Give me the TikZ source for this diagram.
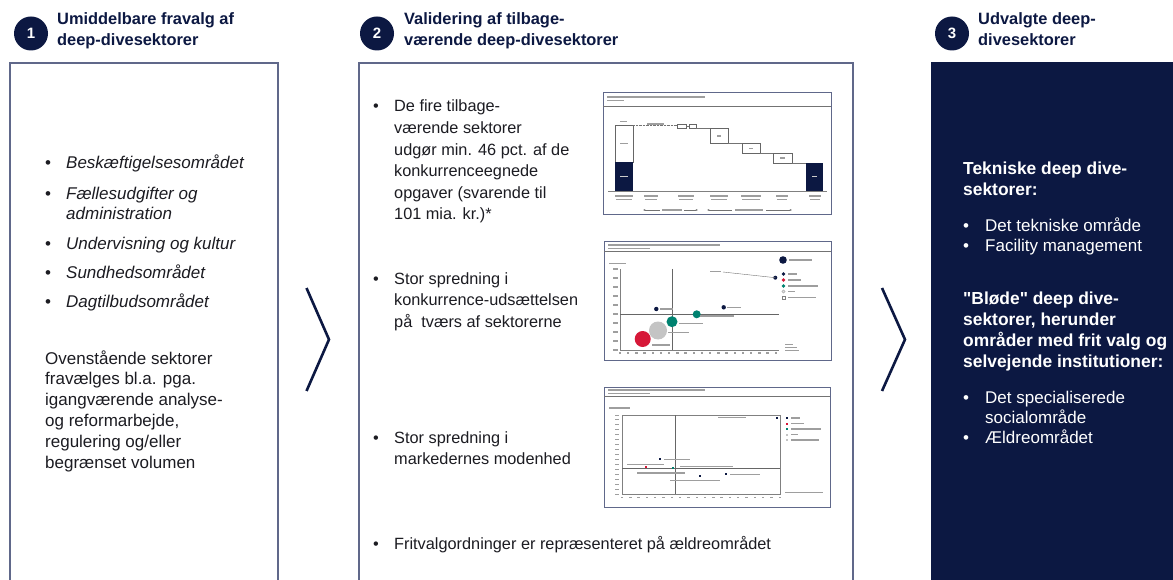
\documentclass[tikz,border=0pt]{standalone}
\usepackage{fontspec}
\setmainfont{Liberation Sans}
\usetikzlibrary{arrows.meta}
\definecolor{navy}{RGB}{12,24,66}
\definecolor{frame}{RGB}{96,104,138}
\definecolor{txt}{RGB}{28,28,34}
\definecolor{tealc}{RGB}{0,130,112}
\definecolor{redc}{RGB}{214,24,56}
\definecolor{grayc}{RGB}{196,196,196}
\newcommand\mylines[1]{\begin{tabular}[t]{@{}l@{}}#1\end{tabular}}
\newcommand\sq{\XeTeXglyph\XeTeXcharglyph"22\relax}
\begin{document}
\begin{tikzpicture}[x=1pt,y=-1pt,
  num/.style={circle, fill=navy, minimum size=34pt, inner sep=0pt, text=white, font=\bfseries\fontsize{15}{15}\selectfont},
  head/.style={anchor=base west, inner sep=0pt, text=navy, font=\bfseries\fontsize{16.4}{21}\selectfont},
  panel/.style={draw=frame, line width=1.3pt},
  chev/.style={draw=navy, line width=2.6pt, line join=miter},
  bul/.style={anchor=base west, inner sep=0pt},
  pone/.style={anchor=base west, inner sep=0pt, text=txt, font=\fontsize{17}{20.5}\selectfont},
  ptwo/.style={anchor=base west, inner sep=0pt, text=txt, font=\fontsize{16.3}{21.6}\selectfont},
  pthree/.style={anchor=base west, inner sep=0pt, text=white, font=\fontsize{17}{20}\selectfont},
  pthreeb/.style={anchor=base west, inner sep=0pt, text=white, font=\bfseries\fontsize{17.4}{21.2}\selectfont},
  cframe/.style={draw=frame, line width=1pt},
  blur/.style={fill=black!38, draw=none},
  wblur/.style={fill=white!80!black, draw=none},
  thinl/.style={draw=black!55, line width=0.4pt},
  axisl/.style={draw=black!50, line width=0.5pt}
]
\useasboundingbox (0,0) rectangle (1173,580);
\fill[white] (0,0) rectangle (1173,580);

% ---------- headers ----------
\node[num] (n1) at (31,33.5) {1};
\node[num] (n2) at (377,33.5) {2};
\node[num] (n3) at (952,33.5) {3};
\node[head] (h1) at (57,25) {\mylines{Umiddelbare fravalg af\\deep-divesektorer}};
\node[head] (h2) at (404,25) {\mylines{Validering af tilbage-\\værende deep-divesektorer}};
\node[head] (h3) at (978,25) {\mylines{Udvalgte deep-\\divesektorer}};

% ---------- panels ----------
\draw[panel] (10,581) -- (10,63) -- (278,63) -- (278,581);
\draw[panel] (359,581) -- (359,63) -- (853,63) -- (853,581);
\fill[navy] (931,62) rectangle (1174,581);
\coordinate (p1) at (144,320);
\coordinate (p2) at (606,320);
\coordinate (p3) at (1052,320);

% ---------- chevrons ----------
\draw[chev] (306.5,288) -- (329,339.5) -- (306.5,391);
\draw[chev] (882,288) -- (905,339.5) -- (882,391);

% ---------- panel 1 ----------
\foreach \yy in {168.5,199.5,249.5,278.5,307.5} \node[bul, font=\fontsize{17}{20.5}\selectfont, text=txt] at (45,\yy) {•};
\node[pone, font=\itshape\fontsize{17}{20.5}\selectfont] (a1) at (66,168.5) {Beskæftigelsesområdet};
\node[pone, font=\itshape\fontsize{17}{20.5}\selectfont] (a2) at (66,199.5) {\mylines{Fællesudgifter og\\administration}};
\node[pone, font=\itshape\fontsize{17}{20.5}\selectfont] (a3) at (66,249.5) {Undervisning og kultur};
\node[pone, font=\itshape\fontsize{17}{20.5}\selectfont] (a4) at (66,278.5) {Sundhedsområdet};
\node[pone, font=\itshape\fontsize{17}{20.5}\selectfont] (a5) at (66,307.5) {Dagtilbudsområdet};
\node[pone, font=\fontsize{17}{20.8}\selectfont] (a6) at (45,364) {\mylines{Ovenstående sektorer\\fravælges bl.a. pga.\\igangværende analyse-\\og reformarbejde,\\regulering og/eller\\begrænset volumen}};

% ---------- panel 2 ----------
\foreach \yy in {112,284,443,549} \node[bul, font=\fontsize{16.3}{21.6}\selectfont, text=txt] at (373,\yy) {•};
\node[ptwo] (b1) at (394,112) {\mylines{De fire tilbage-\\værende sektorer\\udgør min. 46 pct. af de\\konkurrenceegnede\\opgaver (svarende til\\101 mia. kr.)*}};
\node[ptwo] (b2) at (394,284) {\mylines{Stor spredning i\\konkurrence-udsættelsen\\på~~tværs af sektorerne}};
\node[ptwo] (b3) at (394,443) {\mylines{Stor spredning i\\markedernes modenhed}};
\node[ptwo] (b4) at (394,549) {Fritvalgordninger er repræsenteret på ældreområdet};

% ---------- panel 3 ----------
\node[pthreeb] (c1) at (963,174.5) {\mylines{Tekniske deep dive-\\sektorer:}};
\foreach \yy in {232,252,403,443} \node[bul, text=white, font=\fontsize{17}{20}\selectfont] at (963,\yy) {•};
\node[pthree] (c2) at (985,232) {\mylines{Det tekniske område\\Facility management}};
\node[pthreeb] (c3) at (963,304) {\mylines{\sq Bløde\sq{} deep dive-\\sektorer, herunder\\områder med frit valg og\\selvejende institutioner:}};
\node[pthree] (c4) at (985,403) {\mylines{Det specialiserede\\socialområde\\Ældreområdet}};

% ---------- chart 1 (waterfall) ----------
\draw[cframe] (603,93) rectangle (831,215);
\fill[blur] (607,96) rectangle (705,97.6);
\fill[blur] (607,99.8) rectangle (624,101.2);
\draw[thinl] (603,106) -- (831,106);
\draw[draw=black!60, line width=0.5pt, fill=white] (615,125) rectangle (633,162);
\fill[navy] (615,162) rectangle (633,191);
\fill[blur] (620,121) rectangle (627,122.4);
\fill[blur] (619.5,142.6) rectangle (627.5,144);
\fill[wblur] (619.5,176) rectangle (627.5,177.4);
\draw[thinl, densely dotted] (633,125) -- (677,125);
\fill[blur] (647,123.5) rectangle (664,124.6);
\draw[draw=black!60, line width=0.4pt] (677,124.5) rectangle (686,128.5);
\draw[draw=black!60, line width=0.4pt] (689,124.5) rectangle (696,128.5);
\draw[thinl] (686,126.5) -- (689,126.5);
\draw[thinl] (696,128.5) -- (710,128.5);
\draw[draw=black!60, line width=0.5pt] (710,128.5) rectangle (728,143.5);
\fill[blur] (717,135.3) rectangle (721,136.7);
\draw[thinl] (728,143.5) -- (742,143.5);
\draw[draw=black!60, line width=0.5pt] (742,143.5) rectangle (760,153);
\fill[blur] (749,147.6) rectangle (753,149);
\draw[thinl] (760,153) -- (773,153);
\draw[draw=black!60, line width=0.5pt] (773,153) rectangle (792,163);
\fill[blur] (780,157.3) rectangle (785,158.7);
\draw[thinl] (792,163) -- (806,163);
\fill[navy] (806,163) rectangle (823,191);
\fill[wblur] (812,176) rectangle (817,177.4);
\draw[axisl] (608,191) -- (827,191);
\foreach \xx/\w in {624/9,651/7,686/8,719/9,751/10,782/6,815/6} {
  \fill[blur] (\xx-\w,195.5) rectangle (\xx+\w,196.8);
  \fill[blur] (\xx-\w+1,198.8) rectangle (\xx+\w-1,200.1);
}
\draw[thinl, {Latex[length=2.2pt,width=2pt]}-{Latex[length=2.2pt,width=2pt]}] (643,210) -- (698,210);
\fill[white] (660,208) rectangle (684,212);
\fill[blur] (662,209.4) rectangle (682,210.6);
\draw[thinl, {Latex[length=2.2pt,width=2pt]}-{Latex[length=2.2pt,width=2pt]}] (707,210) -- (792,210);
\fill[white] (732,208) rectangle (766,212);
\fill[blur] (735,209.4) rectangle (763,210.6);

% ---------- chart 2 (bubbles) ----------
\draw[cframe] (604,242) rectangle (831,360);
\fill[blur] (608,244) rectangle (720,245.6);
\fill[blur] (608,247.8) rectangle (650,249.2);
\draw[thinl] (604,251.5) -- (831,251.5);
\fill[blur] (609,262.6) rectangle (626,264);
\fill[navy] (783,260) circle (3.8);
\fill[blur] (789,259.4) rectangle (812,260.8);
\draw[axisl] (620,269) -- (620,350) -- (779,350);
\foreach \k in {0,...,9} \fill[blur] (613,269+9*\k-0.6) rectangle (618,269+9*\k+0.6);
\foreach \k in {0,...,19} \fill[blur] (620+8.2*\k-1.2,352.4) rectangle (620+8.2*\k+1.2,353.6);
\draw[draw=black!60, line width=0.6pt] (672,269) -- (672,350);
\draw[draw=black!60, line width=0.6pt] (620,314.3) -- (779,314.3);
\fill[redc] (642.7,339) circle (8);
\fill[grayc] (658,330.5) circle (9);
\fill[tealc] (672,321.7) circle (5.5);
\fill[tealc] (696.7,314.3) circle (4);
\fill[navy] (656.3,309) circle (2.2);
\fill[navy] (723.7,307.3) circle (2.2);
\fill[navy] (775.3,277.7) circle (2);
\draw[thinl] (723,272) -- (775.3,277.7);
\fill[blur] (710,271.3) rectangle (721,272.5);
\fill[blur] (660,308.4) rectangle (673,309.6);
\fill[blur] (727,306.8) rectangle (741,308);
\fill[blur] (700,315.4) rectangle (734,316.6);
\fill[blur] (679,322.8) rectangle (703,324);
\fill[blur] (668,331.8) rectangle (689,333);
\fill[blur] (652,344.4) rectangle (670,345.6);
\fill[navy] (783.5,274) circle (1.8);
\fill[redc] (783.5,280) circle (1.8);
\fill[tealc] (783.5,286) circle (1.8);
\draw[draw=black!40, line width=0.3pt, fill=grayc!50] (783.5,291.5) circle (1.6);
\draw[draw=black!50, line width=0.3pt, fill=white] (782,295.7) rectangle (785,298.7);
\foreach \yy/\w in {274/9,280/13,286/30,291.5/7,297.2/28} \fill[blur] (788,\yy-0.6) rectangle (788+\w,\yy+0.6);
\fill[blur] (785,343.5) rectangle (793,344.7);
\fill[blur] (785,346.5) rectangle (797,347.7);
\fill[blur] (785,349.5) rectangle (799,350.7);

% ---------- chart 3 (scatter) ----------
\draw[cframe] (604,387) rectangle (830,507);
\fill[blur] (608,389) rectangle (705,390.6);
\fill[blur] (608,392.8) rectangle (650,394.2);
\draw[thinl] (604,396) -- (830,396);
\fill[blur] (609,407.3) rectangle (630,408.5);
\draw[axisl] (622,415) rectangle (780,494);
\foreach \k in {0,...,16} \fill[blur] (615,415+4.94*\k-0.5) rectangle (619,415+4.94*\k+0.5);
\foreach \k in {0,...,19} \fill[blur] (622+8.3*\k-1.2,497) rectangle (622+8.3*\k+1.2,498.2);
\draw[draw=black!60, line width=0.5pt] (675.3,415) -- (675.3,494);
\draw[draw=black!60, line width=0.5pt] (622,468.3) -- (780,468.3);
\fill[navy] (775.5,416.5) rectangle (777.5,418.5);
\fill[blur] (718,416.8) rectangle (746,418);
\fill[navy] (659,458.3) rectangle (661,460.3);
\fill[blur] (664,458.7) rectangle (690,459.9);
\fill[redc] (645,466.3) rectangle (647,468.3);
\fill[blur] (627,464.2) rectangle (664,465.4);
\fill[blur] (680,465.6) rectangle (733,466.8);
\fill[tealc] (672,466.5) rectangle (674,468.5);
\fill[blur] (637,472.4) rectangle (685,473.6);
\fill[navy] (699,475) rectangle (701,477);
\fill[navy] (724.5,473.3) rectangle (726.5,475.3);
\fill[blur] (730,473.7) rectangle (760,474.9);
\fill[blur] (670,479.8) rectangle (720,481);
\foreach \yy/\w/\c in {418/9/navy,423.5/13/redc,429/30/tealc,434.5/7/grayc,440/28/grayc} {
  \fill[\c] (786,\yy-1) rectangle (788,\yy+1);
  \fill[blur] (791,\yy-0.6) rectangle (791+\w,\yy+0.6);
}
\fill[blur] (785,492) rectangle (823,493.2);
\end{tikzpicture}
\end{document}
